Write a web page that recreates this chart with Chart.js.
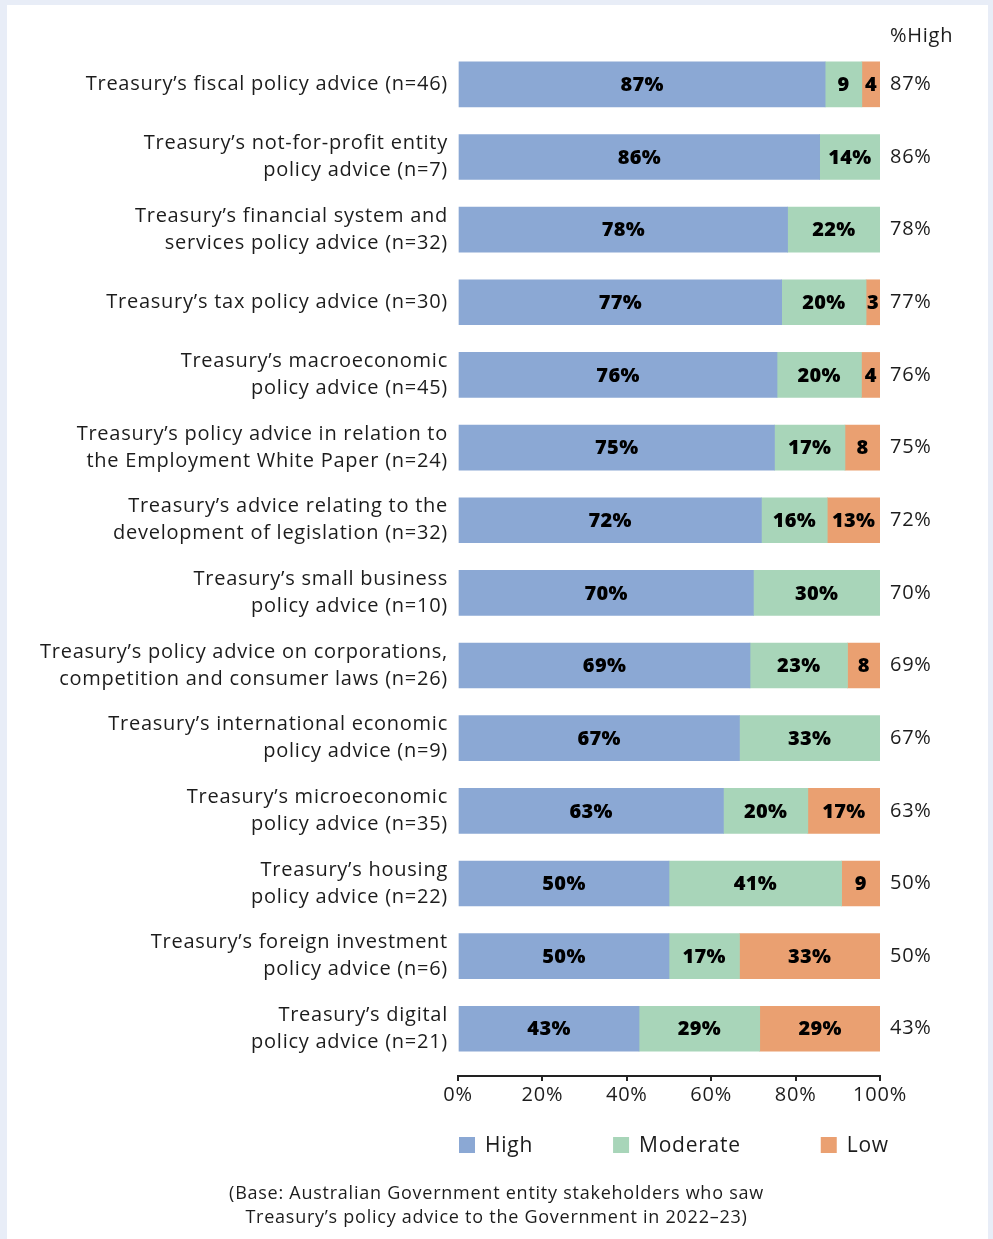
<!DOCTYPE html>
<html><head><meta charset="utf-8">
<script src="https://cdn.jsdelivr.net/npm/chart.js@4.4.0/dist/chart.umd.min.js"></script>
<style>
html,body{margin:0;padding:0;background:#e8edf7;width:993px;height:1239px;overflow:hidden;}
#panel{position:absolute;left:7px;top:5px;width:981px;height:1234px;background:#fff;}
#wrap{position:absolute;left:0;top:0;width:993px;height:1239px;}
</style></head><body>
<div id="panel"></div>
<div id="wrap"><canvas id="c" width="993" height="1239"></canvas></div>
<script>
const categories = [
 ["Treasury’s fiscal policy advice (n=46)"],
 ["Treasury’s not-for-profit entity","policy advice (n=7)"],
 ["Treasury’s financial system and","services policy advice (n=32)"],
 ["Treasury’s tax policy advice (n=30)"],
 ["Treasury’s macroeconomic","policy advice (n=45)"],
 ["Treasury’s policy advice in relation to","the Employment White Paper (n=24)"],
 ["Treasury’s advice relating to the","development of legislation (n=32)"],
 ["Treasury’s small business","policy advice (n=10)"],
 ["Treasury’s policy advice on corporations,","competition and consumer laws (n=26)"],
 ["Treasury’s international economic","policy advice (n=9)"],
 ["Treasury’s microeconomic","policy advice (n=35)"],
 ["Treasury’s housing","policy advice (n=22)"],
 ["Treasury’s foreign investment","policy advice (n=6)"],
 ["Treasury’s digital","policy advice (n=21)"]
];
const highValues     = [87.0,85.7,78.1,76.7,75.6,75.0,71.9,70.0,69.2,66.7,62.9,50.0,50.0,42.9];
const moderateValues = [8.7,14.3,21.9,20.0,20.0,16.7,15.6,30.0,23.1,33.3,20.0,40.9,16.7,28.6];
const lowValues      = [4.3,null,null,3.3,4.4,8.3,12.5,null,7.7,null,17.1,9.1,33.3,28.6];
const highLabels = ["87%","86%","78%","77%","76%","75%","72%","70%","69%","67%","63%","50%","50%","43%"];
const xTickValues = [0,20,40,60,80,100];
const seriesNames = ["High","Moderate","Low"];
const seriesColors = ["#8ba8d4","#a8d5b9","#eaa071"];
const footnote = ["(Base: Australian Government entity stakeholders who saw","Treasury’s policy advice to the Government in 2022–23)"];
const columnHeader = "%High";

const FONT = "'Open Sans', 'Noto Sans', sans-serif";
const TEXT = "#1c1c1c";
const LS = "0.75px";

const toPoints = arr => arr.map((v,i)=>({x:v, y:i}));
const allSeries = [highValues, moderateValues, lowValues];

const spacing = {
  id:'letterSpacing',
  beforeLayout(chart){ chart.ctx.letterSpacing = LS; },
  beforeDraw(chart){ chart.ctx.letterSpacing = LS; }
};

const barLabels = {
  id:'barLabels',
  afterDatasetsDraw(chart){
    const ctx = chart.ctx;
    ctx.save();
    ctx.letterSpacing = "0.3px";
    ctx.font = "800 20px " + FONT;
    ctx.fillStyle = "#000";
    ctx.textAlign = "center";
    ctx.textBaseline = "middle";
    chart.data.datasets.forEach((ds, di)=>{
      const meta = chart.getDatasetMeta(di);
      meta.data.forEach((el, j)=>{
        const v = ds.data[j].x;
        if (v === null || v === 0) return;
        const p = el.getProps(['x','base','y'], true);
        const r = Math.round(v);
        ctx.fillText(r + (v >= 10 ? '%' : ''), (p.x + p.base)/2, p.y + 1);
      });
    });
    ctx.restore();
  }
};

const extras = {
  id:'extras',
  afterDraw(chart){
    const ctx = chart.ctx;
    const area = chart.chartArea;
    const y2 = chart.scales.y2;
    ctx.save();
    ctx.letterSpacing = LS;
    ctx.font = "20px " + FONT;
    ctx.fillStyle = TEXT;
    ctx.textBaseline = "middle";
    ctx.textAlign = "left";
    ctx.fillText(columnHeader, y2.left + 10, area.top - 12);
    // legend
    ctx.font = "21px " + FONT;
    const box = 16, gap = 10, sp = 80;
    const items = chart.data.datasets.map(ds => ({text: ds.label, color: ds.backgroundColor, w: box + gap + ctx.measureText(ds.label).width}));
    let x = area.left + 1;
    const yc = chart.scales.x.bottom + 36;
    items.forEach(it=>{
      ctx.fillStyle = it.color;
      ctx.fillRect(x, yc - box/2, box, box);
      ctx.fillStyle = TEXT;
      ctx.fillText(it.text, x + box + gap, yc + 1);
      x += it.w + sp;
    });
    ctx.restore();
  }
};

const tickCommon = {autoSkip:false, color:TEXT, padding:10};

new Chart(document.getElementById('c'), {
  type:'bar',
  data:{
    datasets: seriesNames.map((n,i)=>({label:n, data:toPoints(allSeries[i]), backgroundColor:seriesColors[i], borderWidth:0, barThickness:45}))
  },
  plugins:[spacing, barLabels, extras],
  options:{
    indexAxis:'y',
    responsive:false,
    animation:false,
    layout:{padding:{top:48,left:0,right:0,bottom:0}},
    plugins:{
      legend:{display:false},
      tooltip:{enabled:false},
      title:{display:true, position:'bottom', text:footnote, color:TEXT,
        font:{family:FONT, size:18, weight:'normal', lineHeight:1.333}, padding:{top:73,bottom:9}}
    },
    scales:{
      x:{type:'linear', stacked:true, min:0, max:100, position:'bottom',
        grid:{display:true, drawOnChartArea:false, drawTicks:true, tickLength:5, color:'#222', lineWidth:2},
        border:{display:true, color:'#222', width:2},
        afterBuildTicks: s => { s.ticks = xTickValues.map(v=>({value:v})); },
        ticks:{color:TEXT, padding:2, font:{family:FONT,size:20}, callback:v=>v+'%'}
      },
      y:{type:'linear', stacked:true, reverse:true, offset:false, min:-0.5, max:13.65, position:'left',
        grid:{display:false, drawTicks:false, offset:false}, border:{display:false},
        afterBuildTicks: s => { s.ticks = categories.map((c,i)=>({value:i})); },
        afterFit: s => { s.width = 458; },
        ticks:Object.assign({}, tickCommon, {font:{family:FONT,size:20,lineHeight:1.35}, callback:v=>categories[v]})
      },
      y2:{type:'linear', reverse:true, offset:false, min:-0.5, max:13.65, position:'right',
        grid:{display:false, drawTicks:false, offset:false}, border:{display:false},
        afterBuildTicks: s => { s.ticks = highLabels.map((c,i)=>({value:i})); },
        afterFit: s => { s.width = 113; },
        ticks:Object.assign({}, tickCommon, {font:{family:FONT,size:20}, callback:v=>highLabels[v]})
      }
    }
  }
});
</script>
</body></html>
